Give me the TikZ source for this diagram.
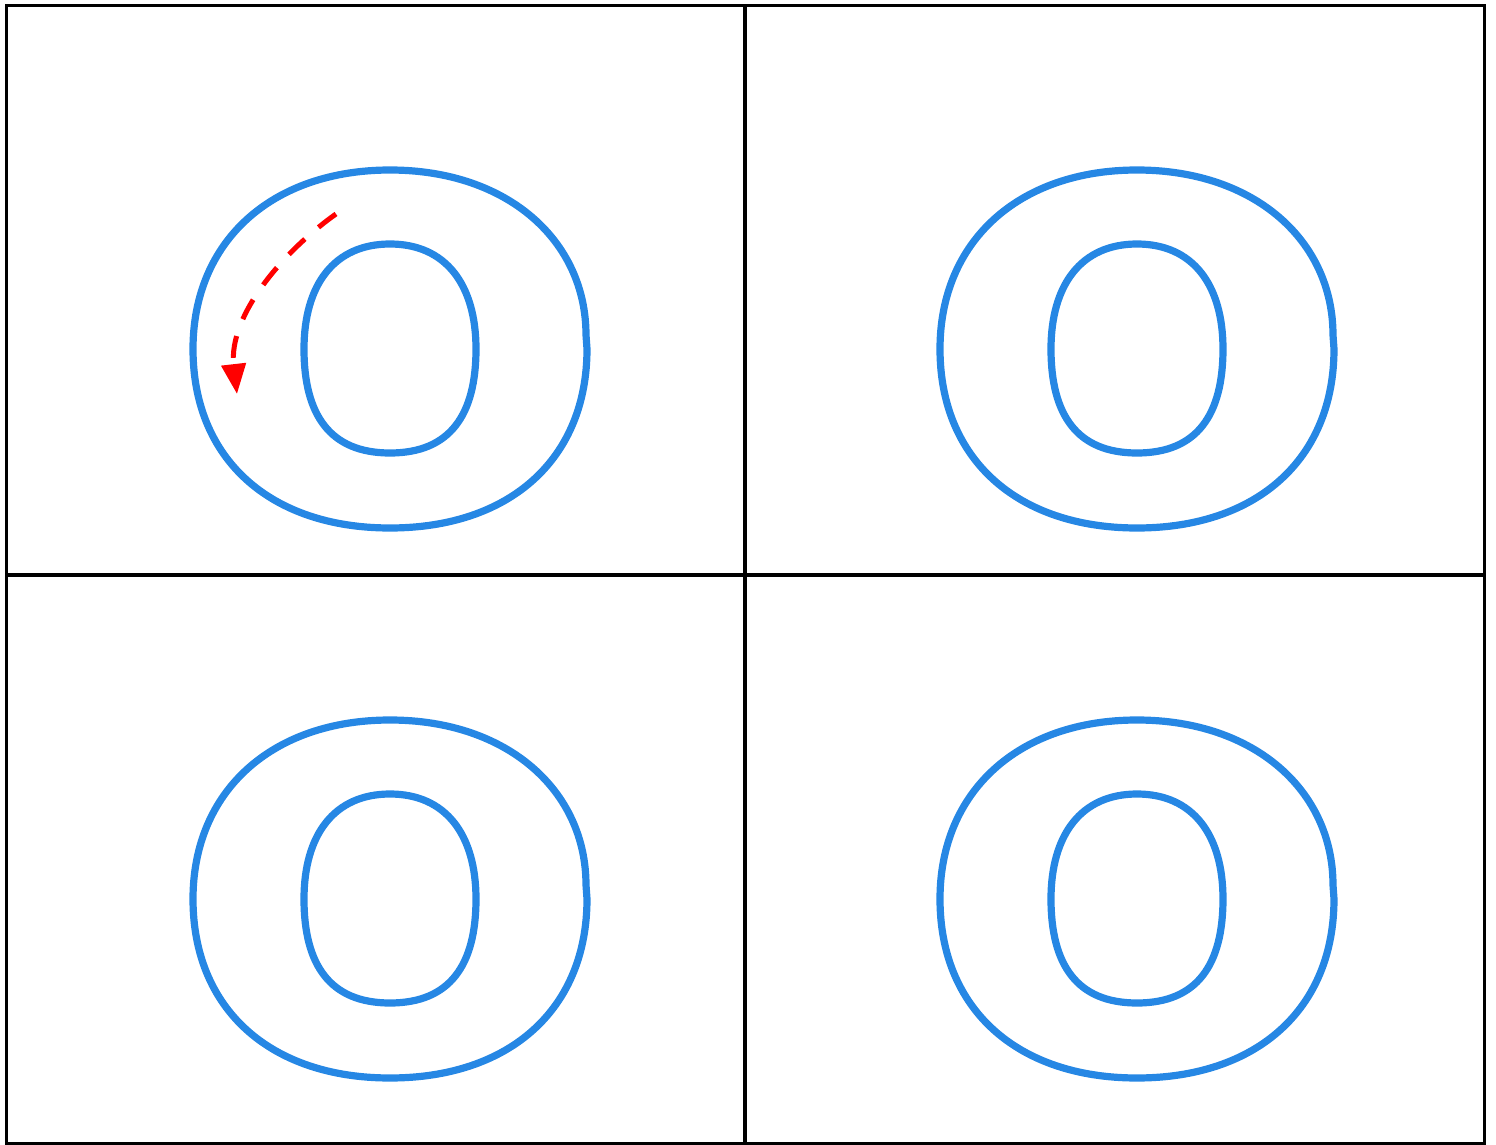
\documentclass[tikz,border=0pt]{standalone}
\usetikzlibrary{arrows.meta}
\definecolor{ringblue}{RGB}{38,135,228}
\tikzset{
  gridline/.style={draw=black, line width=1.9pt},
  ringline/.style={draw=ringblue, line width=3.6pt},
  flowarrow/.style={draw=red, line width=2.5pt, dash pattern=on 11pt off 9pt, -{Triangle[length=15pt,width=12pt]}},
  pics/ringO/.style={code={
    \draw[ringline] (0,-179) .. controls (118,-179) and (196,-108) .. (196,-14) -- (197,0)
      .. controls (197,110) and (120,179) .. (0,179)
      .. controls (-120,179) and (-197,110) .. (-197,0)
      .. controls (-197,-108) and (-118,-179) .. (0,-179) -- cycle;
    \draw[ringline] (0,-105) .. controls (56,-105) and (86,-64) .. (86,0)
      .. controls (86,66) and (60,104) .. (0,104)
      .. controls (-60,104) and (-86,66) .. (-86,0)
      .. controls (-86,-64) and (-56,-105) .. (0,-105) -- cycle;
  }}
}
\begin{document}
\begin{tikzpicture}[x=0.5pt,y=-0.5pt]
\useasboundingbox (0,0) rectangle (1496,1145);
% grid
\draw[gridline] (6.5,5.5) rectangle (1484.5,1143.5);
\draw[gridline] (745,5.5) -- (745,1143.5);
\draw[gridline] (6.5,575) -- (1484.5,575);
% rings
\pic at (390,349) {ringO};
\pic at (1137,349) {ringO};
\pic at (390,899) {ringO};
\pic at (1137,899) {ringO};
% arrow
\coordinate (a0) at (336,214);
\coordinate (a1) at (237,394);
\draw[flowarrow] (a0) .. controls (285,250) and (228,315) .. (a1);
\end{tikzpicture}
\end{document}
